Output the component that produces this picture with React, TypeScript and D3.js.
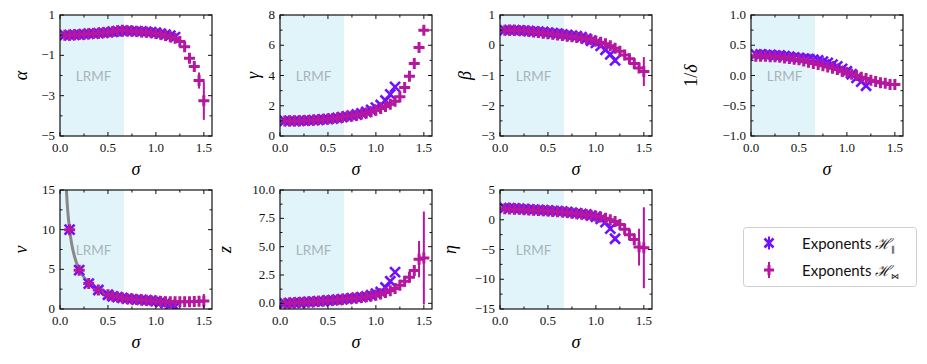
import { useEffect, useRef } from 'react';
import * as d3 from 'd3';

// sigma grids for the two families of exponents
const sigmaX = [0.05, 0.1, 0.15, 0.2, 0.25, 0.3, 0.35, 0.4, 0.45, 0.5, 0.55, 0.6, 0.65, 0.7, 0.75, 0.8, 0.85, 0.9, 0.95, 1.0, 1.05, 1.1, 1.15, 1.2];
const sigmaP = [0.05, 0.1, 0.15, 0.2, 0.25, 0.3, 0.35, 0.4, 0.45, 0.5, 0.55, 0.6, 0.65, 0.7, 0.75, 0.8, 0.85, 0.9, 0.95, 1.0, 1.05, 1.1, 1.15, 1.2, 1.25, 1.3, 1.35, 1.4, 1.45, 1.5];

const alphaX = [0.0, 0.0, 0.02, 0.03, 0.05, 0.07, 0.08, 0.1, 0.12, 0.14, 0.17, 0.2, 0.22, 0.22, 0.2, 0.2, 0.18, 0.17, 0.15, 0.12, 0.08, 0.03, -0.02, -0.1];
const alphaXErr = [0.05, 0.05, 0.05, 0.05, 0.05, 0.05, 0.05, 0.05, 0.05, 0.05, 0.05, 0.05, 0.05, 0.05, 0.05, 0.05, 0.05, 0.05, 0.05, 0.05, 0.06, 0.08, 0.1, 0.15];
const alphaP = [0.0, 0.0, 0.02, 0.03, 0.05, 0.07, 0.08, 0.1, 0.12, 0.15, 0.18, 0.22, 0.25, 0.22, 0.2, 0.18, 0.16, 0.14, 0.12, 0.08, 0.04, -0.02, -0.08, -0.15, -0.32, -0.58, -1.15, -1.55, -2.25, -3.25];
const alphaPErr = [0.05, 0.05, 0.05, 0.05, 0.05, 0.05, 0.05, 0.05, 0.05, 0.05, 0.05, 0.05, 0.05, 0.05, 0.05, 0.05, 0.05, 0.05, 0.05, 0.05, 0.05, 0.05, 0.06, 0.08, 0.1, 0.12, 0.15, 0.2, 0.4, 0.95];

const gammaX = [1.0, 1.0, 1.0, 1.0, 1.02, 1.03, 1.05, 1.07, 1.1, 1.12, 1.15, 1.2, 1.25, 1.3, 1.35, 1.42, 1.5, 1.6, 1.72, 1.88, 2.05, 2.35, 2.75, 3.25];
const gammaXErr = [0.03, 0.03, 0.03, 0.03, 0.03, 0.03, 0.03, 0.03, 0.03, 0.03, 0.03, 0.03, 0.03, 0.03, 0.03, 0.03, 0.03, 0.03, 0.04, 0.04, 0.05, 0.06, 0.08, 0.1];
const gammaP = [1.0, 1.0, 1.0, 1.0, 1.02, 1.03, 1.05, 1.07, 1.1, 1.12, 1.15, 1.2, 1.25, 1.3, 1.33, 1.38, 1.45, 1.52, 1.6, 1.7, 1.82, 1.95, 2.1, 2.3, 2.6, 3.2, 3.95, 4.8, 5.85, 7.0];
const gammaPErr = [0.03, 0.03, 0.03, 0.03, 0.03, 0.03, 0.03, 0.03, 0.03, 0.03, 0.03, 0.03, 0.03, 0.03, 0.03, 0.03, 0.03, 0.03, 0.03, 0.03, 0.03, 0.03, 0.05, 0.05, 0.06, 0.08, 0.1, 0.12, 0.15, 0.2];

const betaX = [0.5, 0.5, 0.5, 0.49, 0.48, 0.47, 0.46, 0.45, 0.44, 0.42, 0.4, 0.38, 0.36, 0.34, 0.32, 0.3, 0.27, 0.22, 0.15, 0.08, -0.02, -0.15, -0.3, -0.5];
const betaXErr = [0.03, 0.03, 0.03, 0.03, 0.03, 0.03, 0.03, 0.03, 0.03, 0.03, 0.03, 0.03, 0.03, 0.03, 0.03, 0.03, 0.03, 0.03, 0.03, 0.04, 0.04, 0.05, 0.06, 0.08];
const betaP = [0.5, 0.5, 0.5, 0.49, 0.48, 0.46, 0.44, 0.42, 0.4, 0.38, 0.36, 0.34, 0.32, 0.3, 0.28, 0.26, 0.24, 0.21, 0.18, 0.14, 0.1, 0.05, -0.02, -0.1, -0.2, -0.32, -0.45, -0.6, -0.75, -0.87];
const betaPErr = [0.03, 0.03, 0.03, 0.03, 0.03, 0.03, 0.03, 0.03, 0.03, 0.03, 0.03, 0.03, 0.03, 0.03, 0.03, 0.03, 0.03, 0.03, 0.03, 0.03, 0.03, 0.03, 0.04, 0.04, 0.05, 0.05, 0.06, 0.08, 0.12, 0.48];

const deltaX = [0.35, 0.35, 0.34, 0.34, 0.33, 0.33, 0.32, 0.31, 0.3, 0.29, 0.28, 0.27, 0.26, 0.25, 0.23, 0.21, 0.18, 0.15, 0.11, 0.07, 0.02, -0.04, -0.1, -0.17];
const deltaXErr = [0.01, 0.01, 0.01, 0.01, 0.01, 0.01, 0.01, 0.01, 0.01, 0.01, 0.01, 0.01, 0.01, 0.01, 0.01, 0.01, 0.01, 0.01, 0.01, 0.01, 0.02, 0.02, 0.02, 0.03];
const deltaP = [0.32, 0.32, 0.32, 0.31, 0.31, 0.3, 0.29, 0.28, 0.27, 0.26, 0.24, 0.22, 0.2, 0.18, 0.16, 0.14, 0.12, 0.1, 0.07, 0.05, 0.02, 0.0, -0.03, -0.05, -0.08, -0.1, -0.12, -0.13, -0.15, -0.15];
const deltaPErr = [0.01, 0.01, 0.01, 0.01, 0.01, 0.01, 0.01, 0.01, 0.01, 0.01, 0.01, 0.01, 0.01, 0.01, 0.01, 0.01, 0.01, 0.01, 0.01, 0.01, 0.01, 0.01, 0.01, 0.01, 0.02, 0.02, 0.02, 0.02, 0.03, 0.03];

const nuX = [null, 10, null, 4.9, null, 3.2, null, 2.4, null, 1.8, 1.6, 1.5, 1.4, 1.3, 1.25, 1.2, 1.15, 1.1, 1.05, 1.0, 0.9, 0.75, 0.55, 0.3];
const nuXErr = [0, 0.3, 0, 0.2, 0, 0.15, 0, 0.1, 0, 0.1, 0.1, 0.1, 0.1, 0.1, 0.1, 0.1, 0.1, 0.1, 0.1, 0.1, 0.1, 0.1, 0.1, 0.1];
const nuP = [null, 10, null, 4.9, null, 3.2, null, 2.4, null, 1.8, 1.6, 1.5, 1.4, 1.3, 1.25, 1.2, 1.15, 1.1, 1.05, 1.0, 0.95, 0.92, 0.9, 0.9, 0.9, 0.9, 0.92, 0.95, 0.98, 1.0];
const nuPErr = [0, 0.3, 0, 0.2, 0, 0.15, 0, 0.1, 0, 0.1, 0.1, 0.1, 0.1, 0.1, 0.1, 0.1, 0.1, 0.1, 0.1, 0.1, 0.1, 0.1, 0.1, 0.1, 0.1, 0.1, 0.12, 0.15, 0.3, 0.9];

const zX = [0.0, 0.02, 0.05, 0.08, 0.1, 0.12, 0.15, 0.18, 0.2, 0.25, 0.28, 0.32, 0.36, 0.4, 0.45, 0.5, 0.55, 0.62, 0.72, 0.85, 1.0, 1.4, 1.95, 2.75];
const zXErr = [0.05, 0.05, 0.05, 0.05, 0.05, 0.05, 0.05, 0.05, 0.05, 0.05, 0.05, 0.05, 0.05, 0.05, 0.05, 0.05, 0.05, 0.05, 0.05, 0.05, 0.06, 0.08, 0.1, 0.15];
const zP = [0.0, 0.02, 0.05, 0.08, 0.1, 0.12, 0.15, 0.18, 0.2, 0.25, 0.28, 0.32, 0.36, 0.4, 0.44, 0.48, 0.52, 0.58, 0.64, 0.72, 0.82, 0.95, 1.1, 1.3, 1.6, 1.95, 2.3, 2.9, 3.9, 4.0];
const zPErr = [0.05, 0.05, 0.05, 0.05, 0.05, 0.05, 0.05, 0.05, 0.05, 0.05, 0.05, 0.05, 0.05, 0.05, 0.05, 0.05, 0.05, 0.05, 0.05, 0.05, 0.05, 0.05, 0.06, 0.08, 0.1, 0.12, 0.2, 0.35, 1.6, 4.1];

const etaX = [2.0, 1.95, 1.9, 1.85, 1.8, 1.75, 1.7, 1.65, 1.6, 1.55, 1.5, 1.45, 1.4, 1.3, 1.2, 1.1, 1.0, 0.9, 0.7, 0.5, 0.15, -0.4, -1.5, -3.2];
const etaXErr = [0.1, 0.1, 0.1, 0.1, 0.1, 0.1, 0.1, 0.1, 0.1, 0.1, 0.1, 0.1, 0.1, 0.1, 0.1, 0.1, 0.1, 0.1, 0.1, 0.15, 0.15, 0.2, 0.3, 0.4];
const etaP = [1.85, 1.8, 1.78, 1.75, 1.7, 1.65, 1.6, 1.55, 1.5, 1.45, 1.4, 1.35, 1.3, 1.2, 1.1, 1.0, 0.95, 0.85, 0.75, 0.6, 0.45, 0.25, 0.0, -0.3, -0.8, -1.6, -2.5, -3.3, -4.6, -4.7];
const etaPErr = [0.1, 0.1, 0.1, 0.1, 0.1, 0.1, 0.1, 0.1, 0.1, 0.1, 0.1, 0.1, 0.1, 0.1, 0.1, 0.1, 0.1, 0.1, 0.1, 0.1, 0.1, 0.1, 0.15, 0.2, 0.25, 0.35, 0.5, 1.0, 3.1, 6.8];

// long-range mean-field values (sigma < 2/3)
const mfSigma = [0, 0.6667];
const alphaMF = [0, 0];
const gammaMF = [1, 1];
const betaMF = [0.5, 0.5];
const deltaMF = [0.3333, 0.3333];
const zMF = [0, 0];
const etaMF = [2, 1.3333];
const nuMFSigma = [0.0667, 0.075, 0.085, 0.1, 0.12, 0.15, 0.2, 0.25, 0.3, 0.4, 0.5, 0.6, 0.6667];
const nuMF = [15, 13.33, 11.76, 10, 8.33, 6.67, 5, 4, 3.33, 2.5, 2, 1.67, 1.5];

const sigmaTicks = [0, 0.5, 1.0, 1.5];
const sigmaMinor = [0.25, 0.75, 1.25];

const BLUE = '#7010ff';
const MAGENTA = '#b5179e';
const SERIF = '"Liberation Serif", "DejaVu Serif", serif';
const SANS = 'Lato, "Noto Sans", sans-serif';

const PW = 152;

const panels = [
  { name: 'α', left: 60, top: 15, h: 121, ylim: [-5, 1], ticks: [-5, -3, -1, 1], minor: [-4, -2, 0], fmt: '.0f', lab: 37,
    bx: alphaX, bxe: alphaXErr, py: alphaP, pye: alphaPErr, mfx: mfSigma, mfy: alphaMF },
  { name: 'γ', left: 280, top: 15, h: 121, ylim: [0, 8], ticks: [0, 2, 4, 6, 8], minor: [1, 3, 5, 7], fmt: '.0f', lab: 25,
    bx: gammaX, bxe: gammaXErr, py: gammaP, pye: gammaPErr, mfx: mfSigma, mfy: gammaMF },
  { name: 'β', left: 500, top: 15, h: 121, ylim: [-3, 1], ticks: [-3, -2, -1, 0, 1], minor: [-2.5, -1.5, -0.5, 0.5], fmt: '.0f', lab: 33,
    bx: betaX, bxe: betaXErr, py: betaP, pye: betaPErr, mfx: mfSigma, mfy: betaMF },
  { name: '1/δ', left: 751, top: 15, h: 121, ylim: [-1, 1], ticks: [-1, -0.5, 0, 0.5, 1], minor: [-0.75, -0.25, 0.25, 0.75], fmt: '.1f', lab: 58,
    bx: deltaX, bxe: deltaXErr, py: deltaP, pye: deltaPErr, mfx: mfSigma, mfy: deltaMF },
  { name: 'ν', left: 60, top: 190, h: 119, ylim: [0, 15], ticks: [0, 5, 10, 15], minor: [2.5, 7.5, 12.5], fmt: '.0f', lab: 37,
    bx: nuX, bxe: nuXErr, py: nuP, pye: nuPErr, mfx: nuMFSigma, mfy: nuMF },
  { name: 'z', left: 280, top: 190, h: 119, ylim: [-0.5, 10], ticks: [0, 2.5, 5, 7.5, 10], minor: [1.25, 3.75, 6.25, 8.75], fmt: '.1f', lab: 53,
    bx: zX, bxe: zXErr, py: zP, pye: zPErr, mfx: mfSigma, mfy: zMF },
  { name: 'η', left: 500, top: 190, h: 119, ylim: [-15, 5], ticks: [-15, -10, -5, 0, 5], minor: [-12.5, -7.5, -2.5, 2.5], fmt: '.0f', lab: 48,
    bx: etaX, bxe: etaXErr, py: etaP, pye: etaPErr, mfx: mfSigma, mfy: etaMF },
];

const markerPath = (shape: string, r: number) =>
  shape === 'x'
    ? `M${-r},${-r}L${r},${r}M${-r},${r}L${r},${-r}`
    : `M${-r},0H${r}M0,${-r}V${r}`;

const MK = { x: { r: 5, w: 2.6 }, plus: { r: 5.5, w: 3 } } as Record<string, { r: number; w: number }>;

const App = () => {
  const svgRef = useRef<SVGSVGElement>(null);

  useEffect(() => {
    const svg = d3.select(svgRef.current);
    svg.selectAll('*').remove();
    const defs = svg.append('defs');

    panels.forEach((p, i) => {
      const x = d3.scaleLinear().domain([0, 1.585]).range([p.left, p.left + PW]);
      const y = d3.scaleLinear().domain(p.ylim).range([p.top + p.h, p.top]);
      const bottom = p.top + p.h;

      defs.append('clipPath').attr('id', `clip${i}`)
        .append('rect').attr('x', p.left).attr('y', p.top).attr('width', PW).attr('height', p.h);

      const g = svg.append('g');
      const inner = g.append('g').attr('clip-path', `url(#clip${i})`);

      // LRMF region
      inner.append('rect')
        .attr('x', x(0)).attr('y', p.top)
        .attr('width', x(2 / 3) - x(0)).attr('height', p.h)
        .attr('fill', '#e1f4f9');
      inner.append('text')
        .attr('x', x(0.35)).attr('y', p.top + p.h / 2)
        .attr('text-anchor', 'middle').attr('dominant-baseline', 'central')
        .style('font-family', SANS).style('font-size', '13.5px')
        .attr('fill', '#a9b4b9')
        .text('LRMF');

      // mean-field prediction
      const mf = p.mfx.map((s, k) => [s, p.mfy[k]] as [number, number]);
      const line = d3.line<[number, number]>().x(d => x(d[0])).y(d => y(d[1])).curve(d3.curveMonotoneX);
      inner.append('path').attr('d', line(mf))
        .attr('fill', 'none').attr('stroke', '#888').attr('stroke-width', 3);

      const drawSeries = (sig: number[], vals: (number | null)[], errs: number[], color: string, shape: string) => {
        const pts = sig.map((s, k) => ({ s, v: vals[k], e: errs[k] })).filter(d => d.v !== null) as { s: number; v: number; e: number }[];
        const sg = inner.append('g');
        sg.selectAll('line.err').data(pts).enter().append('line')
          .attr('x1', d => x(d.s)).attr('x2', d => x(d.s))
          .attr('y1', d => y(d.v - d.e)).attr('y2', d => y(d.v + d.e))
          .attr('stroke', color).attr('stroke-width', 2);
        sg.selectAll('path.mk').data(pts).enter().append('path')
          .attr('transform', d => `translate(${x(d.s)},${y(d.v)})`)
          .attr('d', markerPath(shape, MK[shape].r))
          .attr('fill', 'none').attr('stroke', color)
          .attr('stroke-width', MK[shape].w);
      };
      drawSeries(sigmaX, p.bx, p.bxe, BLUE, 'x');
      drawSeries(sigmaP, p.py, p.pye, MAGENTA, 'plus');

      // frame
      g.append('rect')
        .attr('x', p.left).attr('y', p.top).attr('width', PW).attr('height', p.h)
        .attr('fill', 'none').attr('stroke', '#111').attr('stroke-width', 1.2);

      const tickG = g.append('g').attr('stroke', '#111').attr('stroke-width', 1);
      const xt = [...sigmaTicks.map(t => ({ t, l: 4 })), ...sigmaMinor.map(t => ({ t, l: 2.5 }))];
      xt.forEach(({ t, l }) => {
        tickG.append('line').attr('x1', x(t)).attr('x2', x(t)).attr('y1', bottom).attr('y2', bottom - l);
        tickG.append('line').attr('x1', x(t)).attr('x2', x(t)).attr('y1', p.top).attr('y2', p.top + l);
      });
      const yt = [...p.ticks.map(t => ({ t, l: 4 })), ...p.minor.map(t => ({ t, l: 2.5 }))];
      yt.forEach(({ t, l }) => {
        tickG.append('line').attr('x1', p.left).attr('x2', p.left + l).attr('y1', y(t)).attr('y2', y(t));
        tickG.append('line').attr('x1', p.left + PW).attr('x2', p.left + PW - l).attr('y1', y(t)).attr('y2', y(t));
      });

      // tick labels
      const fx = d3.format('.1f');
      sigmaTicks.forEach(t => {
        g.append('text').attr('x', x(t)).attr('y', bottom + 15.5)
          .attr('text-anchor', 'middle')
          .style('font-family', SERIF).style('font-size', '13px').attr('fill', '#111')
          .text(fx(t));
      });
      const fy = d3.format(p.fmt);
      p.ticks.forEach(t => {
        g.append('text').attr('x', p.left - 5).attr('y', y(t)).attr('dy', '0.32em')
          .attr('text-anchor', 'end')
          .style('font-family', SERIF).style('font-size', '13px').attr('fill', '#111')
          .text(fy(t));
      });

      // axis labels
      g.append('text').attr('x', p.left + PW / 2).attr('y', bottom + 39)
        .attr('text-anchor', 'middle')
        .style('font-family', SERIF).style('font-size', '18px').style('font-style', 'italic')
        .text('σ');
      const yl = g.append('text')
        .attr('transform', `translate(${p.left - p.lab},${p.top + p.h / 2}) rotate(-90)`)
        .attr('text-anchor', 'middle').attr('dominant-baseline', 'middle')
        .style('font-family', SERIF).style('font-size', '18px');
      if (p.name === '1/δ') {
        yl.append('tspan').text('1/');
        yl.append('tspan').style('font-style', 'italic').text('δ');
      } else {
        yl.style('font-style', 'italic').text(p.name);
      }
    });

    // legend
    const lg = svg.append('g');
    lg.append('rect').attr('x', 743.5).attr('y', 227.5).attr('width', 173).attr('height', 59).attr('rx', 3)
      .attr('fill', '#fff').attr('stroke', '#cfcfcf').attr('stroke-width', 1);
    const entries = [
      { color: BLUE, shape: 'x', sub: '∥', y: 243, err: 6.5 },
      { color: MAGENTA, shape: 'plus', sub: '⋈', y: 270, err: 8 },
    ];
    entries.forEach(en => {
      lg.append('line').attr('x1', 769).attr('x2', 769).attr('y1', en.y - en.err).attr('y2', en.y + en.err)
        .attr('stroke', en.color).attr('stroke-width', 2);
      lg.append('path').attr('transform', `translate(769,${en.y})`)
        .attr('d', markerPath(en.shape, MK[en.shape].r - 0.5))
        .attr('fill', 'none').attr('stroke', en.color).attr('stroke-width', MK[en.shape].w);
      const t = lg.append('text').attr('x', 802).attr('y', en.y + 5.5)
        .style('font-family', SANS).style('font-size', '15px').attr('fill', '#111');
      t.append('tspan').text('Exponents ');
      t.append('tspan').style('font-family', SERIF).style('font-style', 'italic').style('font-size', '15px').text('ℋ');
      t.append('tspan').attr('dy', 3).style('font-size', '8px').style('font-weight', 300).text(en.sub);
    });
  }, []);

  return (
    <svg ref={svgRef} width={927} height={364}
      style={{ position: 'absolute', left: 0, top: 0, background: '#fff' }} />
  );
};

export default App;
